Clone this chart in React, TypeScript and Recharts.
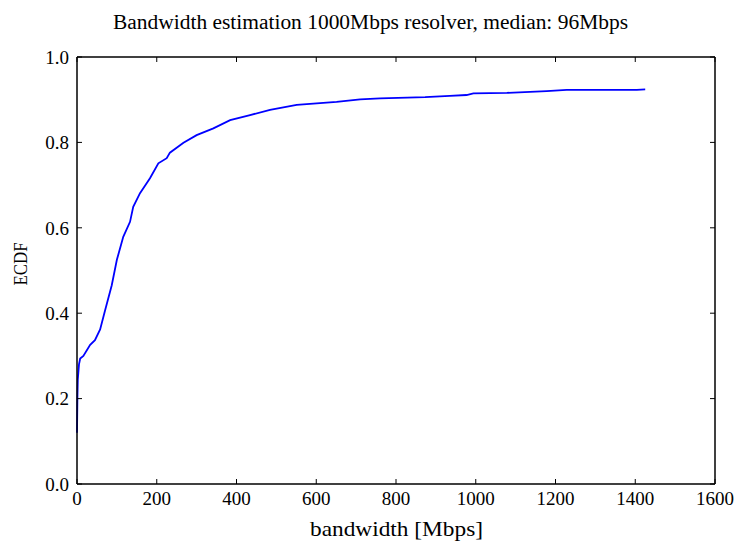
import { LineChart, Line, XAxis, YAxis } from 'recharts';

const bandwidthMbps = [
    0, 1, 2, 5, 8, 16, 33, 45, 58, 70, 87, 100, 116, 133, 141, 158, 183, 204, 225, 233,
    267, 300, 342, 384, 434, 484, 551, 651, 710, 760, 873, 935, 977, 994, 1078, 1178,
    1228, 1404, 1425,
];
const ecdf = [
    0.12, 0.2, 0.245, 0.28, 0.294, 0.3, 0.326, 0.337, 0.362, 0.405, 0.465, 0.525, 0.579,
    0.614, 0.649, 0.681, 0.716, 0.751, 0.763, 0.776, 0.799, 0.817, 0.833, 0.852, 0.864,
    0.876, 0.888, 0.895, 0.901, 0.903, 0.906, 0.909, 0.911, 0.915, 0.916, 0.92, 0.923,
    0.923, 0.924,
];
const xTicks = [0, 200, 400, 600, 800, 1000, 1200, 1400, 1600];
const yTicks = [0, 0.2, 0.4, 0.6, 0.8, 1.0];

const title = 'Bandwidth estimation 1000Mbps resolver, median: 96Mbps';
const xLabel = 'bandwidth [Mbps]';
const yLabel = 'ECDF';

const data = bandwidthMbps.map((b, i) => ({ bw: b, ecdf: ecdf[i] }));

const font = '"Liberation Serif", serif';
const tickStyle = { fontSize: 19, fill: '#000', fontFamily: font };
const axisLine = { stroke: '#000', strokeWidth: 1.5 };
const tickLine = { stroke: '#000', strokeWidth: 1 };
const blank = () => '';

export default function App() {
    return (
        <div style={{ position: 'absolute', left: 0, top: 0, width: 740, height: 546, background: '#fff' }}>
            <LineChart width={740} height={546} data={data} margin={{ top: 27, right: 0, bottom: 32, left: 37 }}>
                <XAxis
                    xAxisId="bottom"
                    dataKey="bw"
                    type="number"
                    domain={[0, 1600]}
                    ticks={xTicks}
                    interval={0}
                    height={30}
                    tickSize={-5}
                    tickMargin={13}
                    tick={tickStyle}
                    axisLine={axisLine}
                    tickLine={tickLine}
                />
                <XAxis
                    xAxisId="top"
                    orientation="top"
                    dataKey="bw"
                    type="number"
                    domain={[0, 1600]}
                    ticks={xTicks}
                    interval={0}
                    height={30}
                    tickSize={-5}
                    tickFormatter={blank}
                    axisLine={axisLine}
                    tickLine={tickLine}
                />
                <YAxis
                    yAxisId="left"
                    type="number"
                    domain={[0, 1]}
                    ticks={yTicks}
                    interval={0}
                    width={40}
                    tickSize={-5}
                    tickMargin={13}
                    tickFormatter={(v: number) => v.toFixed(1)}
                    tick={tickStyle}
                    axisLine={axisLine}
                    tickLine={tickLine}
                />
                <YAxis
                    yAxisId="right"
                    orientation="right"
                    type="number"
                    domain={[0, 1]}
                    ticks={yTicks}
                    interval={0}
                    width={25}
                    tickSize={-5}
                    tickFormatter={blank}
                    axisLine={axisLine}
                    tickLine={tickLine}
                />
                <Line
                    xAxisId="top"
                    yAxisId="right"
                    dataKey="ecdf"
                    stroke="none"
                    dot={false}
                    isAnimationActive={false}
                />
                <Line
                    xAxisId="bottom"
                    yAxisId="left"
                    type="linear"
                    dataKey="ecdf"
                    stroke="#0000ff"
                    strokeWidth={1.8}
                    dot={false}
                    isAnimationActive={false}
                />
                <text x={370.5} y={28.5} textAnchor="middle" textLength={515} lengthAdjust="spacingAndGlyphs"
                    style={{ fontSize: 20, fill: '#000', fontFamily: font }}>
                    {title}
                </text>
                <text x={396.5} y={536} textAnchor="middle" textLength={173} lengthAdjust="spacingAndGlyphs"
                    style={{ fontSize: 21, fill: '#000', fontFamily: font }}>
                    {xLabel}
                </text>
                <text x={26.5} y={264} textAnchor="middle" textLength={43} lengthAdjust="spacingAndGlyphs"
                    transform="rotate(-90 26.5 264)" style={{ fontSize: 19, fill: '#000', fontFamily: font }}>
                    {yLabel}
                </text>
            </LineChart>
        </div>
    );
}
